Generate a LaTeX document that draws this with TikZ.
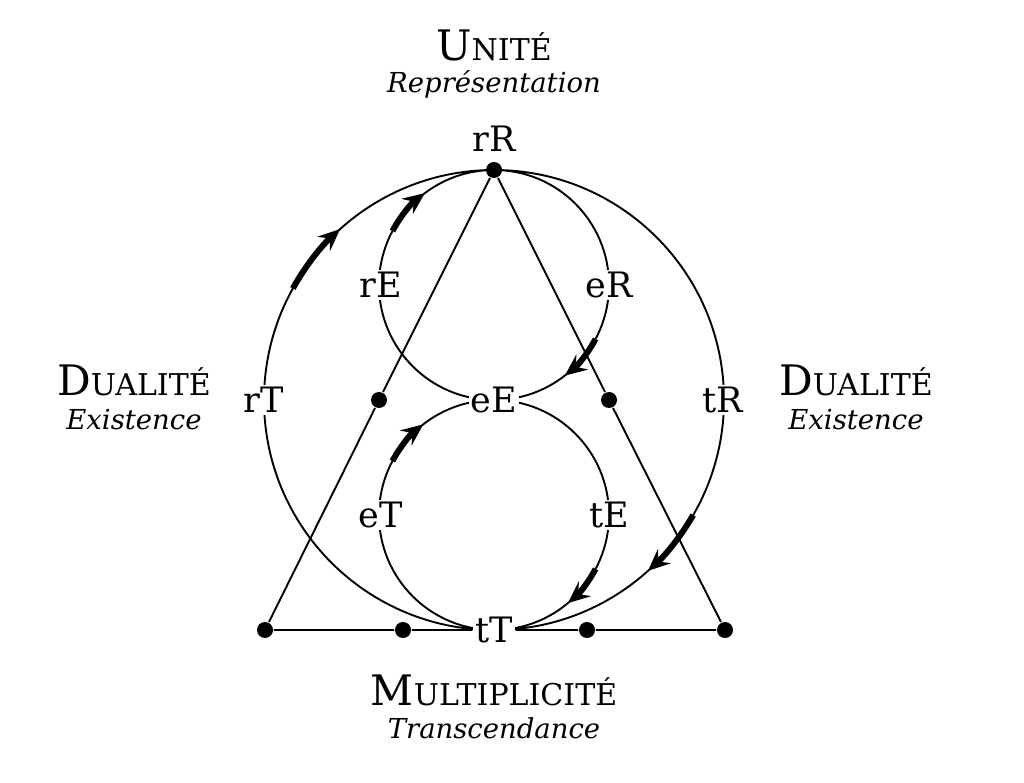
\documentclass[tikz,border=0pt]{standalone}
\usepackage{fontspec}
\setmainfont{DejaVu Serif}
\usetikzlibrary{arrows.meta}

\begin{document}
\begin{tikzpicture}[x=1pt, y=1pt, line width=1.9pt,
    lbl/.style={fill=white, inner sep=2pt, font=\fontsize{35}{38}\selectfont},
    dot/.style={circle, fill=black, inner sep=0pt, minimum size=16pt},
    flow/.style={line width=6pt, -{Stealth[length=22pt, width=19pt, inset=8pt]}},
    big/.style={font=\fontsize{42}{46}\selectfont},
    sub/.style={font=\fontsize{27.5}{30}\selectfont\itshape}]
      \useasboundingbox (0,0) rectangle (1024,782);
      \coordinate (o) at (494,382);
      \coordinate (ou) at (494,497);
      \coordinate (ol) at (494,267);
      % circles
      \draw (o) circle[radius=230]
            (ou) circle[radius=115]
            (ol) circle[radius=115];
      % flows
      \draw[flow] ([shift={(151:230)}]o) arc[start angle=151, end angle=132, radius=230];
      \draw[flow] ([shift={(-30:230)}]o) arc[start angle=-30, end angle=-48, radius=230];
      \draw[flow] ([shift={(152:115)}]ou) arc[start angle=152, end angle=127, radius=115];
      \draw[flow] ([shift={(-28:115)}]ou) arc[start angle=-28, end angle=-52, radius=115];
      \draw[flow] ([shift={(152:115)}]ol) arc[start angle=152, end angle=128, radius=115];
      \draw[flow] ([shift={(-28:115)}]ol) arc[start angle=-28, end angle=-50, radius=115];
      % labels
      \node[lbl] (rR) at (494,643) {rR};
      \node[lbl] (rE) at (381,497) {rE};
      \node[lbl] (eR) at (609,497) {eR};
      \node[lbl] (rT) at (264,382) {rT};
      \node[lbl] (eE) at (494,382) {eE};
      \node[lbl] (tR) at (723,382) {tR};
      \node[lbl] (eT) at (381,267) {eT};
      \node[lbl] (tE) at (609,267) {tE};
      \node[lbl] (tT) at (494,152) {tT};
      % points
      \node[dot] (ap) at (494,612) {};
      \node[dot] (sl) at (379,382) {};
      \node[dot] (sr) at (609,382) {};
      \node[dot] (bl) at (265,152) {};
      \node[dot] (ml) at (403,152) {};
      \node[dot] (mr) at (587,152) {};
      \node[dot] (br) at (725,152) {};
      \draw (ap) -- (sl) -- (bl) -- (ml) -- (tT)
            (tT) -- (mr) -- (br) -- (sr) -- (ap);
      % titles
      \node[big] (unite) at (494,737) {U\fontsize{30}{32}\selectfont NITÉ};
      \node[sub] (repr) at (494,698) {Représentation};
      \node[big] (dual1) at (134,402) {D\fontsize{30}{32}\selectfont UALITÉ};
      \node[sub] (exist1) at (134,362) {Existence};
      \node[big] (dual2) at (856,402) {D\fontsize{30}{32}\selectfont UALITÉ};
      \node[sub] (exist2) at (856,362) {Existence};
      \node[big] (multi) at (494,92) {M\fontsize{30}{32}\selectfont ULTIPLICITÉ};
      \node[sub] (trans) at (494,54) {Transcendance};
\end{tikzpicture}
\end{document}
